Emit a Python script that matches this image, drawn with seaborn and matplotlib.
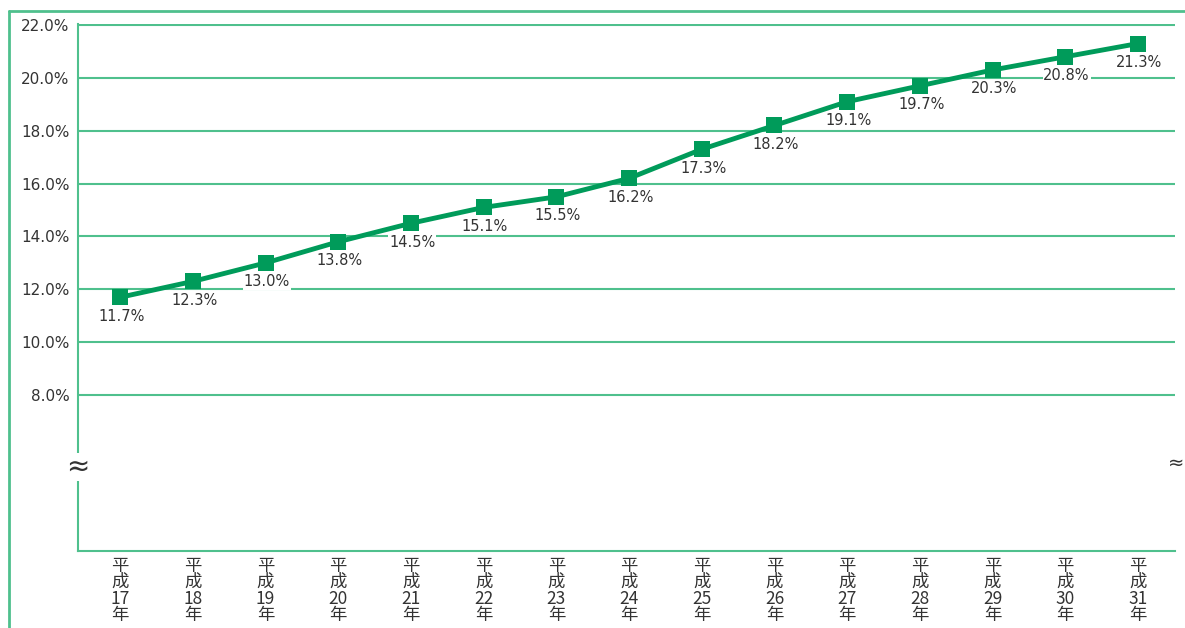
import matplotlib
matplotlib.use("Agg")
import matplotlib.pyplot as plt
from matplotlib.lines import Line2D
from matplotlib.ticker import FixedLocator
import seaborn as sns
import pandas as pd

# 平成17年〜平成31年 の割合（%）
years = ["17", "18", "19", "20", "21", "22", "23", "24", "25", "26", "27", "28", "29", "30", "31"]
rates = [11.7, 12.3, 13.0, 13.8, 14.5, 15.1, 15.5, 16.2, 17.3, 18.2, 19.1, 19.7, 20.3, 20.8, 21.3]
y_ticks = [8.0, 10.0, 12.0, 14.0, 16.0, 18.0, 20.0, 22.0]

GRID = "#4fc08d"
MARK = "#009b5a"
TEXT = "#333333"
NUM_FONT = ["DejaVu Sans"]

sns.set_theme(style="white")
plt.rcParams["font.family"] = ["Noto Sans CJK JP", "DejaVu Sans"]

fig = plt.figure(figsize=(11.85, 6.28), dpi=100)
ax = fig.add_axes([78 / 1185, 1 - 551 / 628, (1175 - 78) / 1185, (551 - 24) / 628])

df = pd.DataFrame({"year": years, "rate": rates})
sns.lineplot(data=df, x="year", y="rate", sort=False, ax=ax, color=MARK,
             linewidth=3.5, marker="s", markersize=11, markeredgewidth=0,
             markerfacecolor=MARK, zorder=5)

# value labels under each marker
for i, v in enumerate(rates):
    ax.annotate(f"{v:.1f}%", (i, v), xytext=(1, -13.5), textcoords="offset points",
                ha="center", va="center", fontsize=10.5, color=TEXT, zorder=4,
                family=NUM_FONT,
                bbox=dict(boxstyle="square,pad=0.05", fc="white", ec="none"))

ax.set_xlim(-0.58, 14.51)
ax.set_ylim(2.1, 22.04)
ax.set_xlabel("")
ax.set_ylabel("")

ax.set_yticks(y_ticks)
ax.set_yticklabels([f"{t:.1f}%" for t in y_ticks], fontsize=11, color=TEXT,
                   family=NUM_FONT)
ax.yaxis.grid(True, color=GRID, linewidth=1.5)
ax.set_axisbelow(True)
ax.tick_params(axis="y", length=0, pad=6)

ax.set_xticks(range(len(years)))
ax.set_xticklabels([f"平\n成\n{y}\n年" for y in years], fontsize=12.5, color=TEXT,
                   linespacing=0.9)
ax.tick_params(axis="x", which="major", length=0, pad=4)
ax.xaxis.set_minor_locator(FixedLocator([i + 0.5 for i in range(len(years))]))
ax.tick_params(axis="x", which="minor", direction="in", length=11, width=1.5,
               color=GRID)

for side in ("top", "right"):
    ax.spines[side].set_visible(False)
for side in ("left", "bottom"):
    ax.spines[side].set_color(GRID)
    ax.spines[side].set_linewidth(1.5)

# axis break marks
ax.text(0.0, 5.28, "≈", transform=ax.get_yaxis_transform(), ha="center",
        va="center", fontsize=20, color=TEXT, family=NUM_FONT,
        bbox=dict(boxstyle="square,pad=0.0", fc="white", ec="none"), zorder=6)
fig.text(1184 / 1185, 1 - 463 / 628, "≈", ha="right", va="center", fontsize=14,
         color=TEXT, family=NUM_FONT)

# outer frame
fig.add_artist(Line2D([9 / 1185, 9 / 1185], [0, 1 - 11 / 628], color=GRID, lw=2))
fig.add_artist(Line2D([9 / 1185, 1], [1 - 11 / 628, 1 - 11 / 628], color=GRID, lw=2))

fig.savefig("out.png", dpi=100)
